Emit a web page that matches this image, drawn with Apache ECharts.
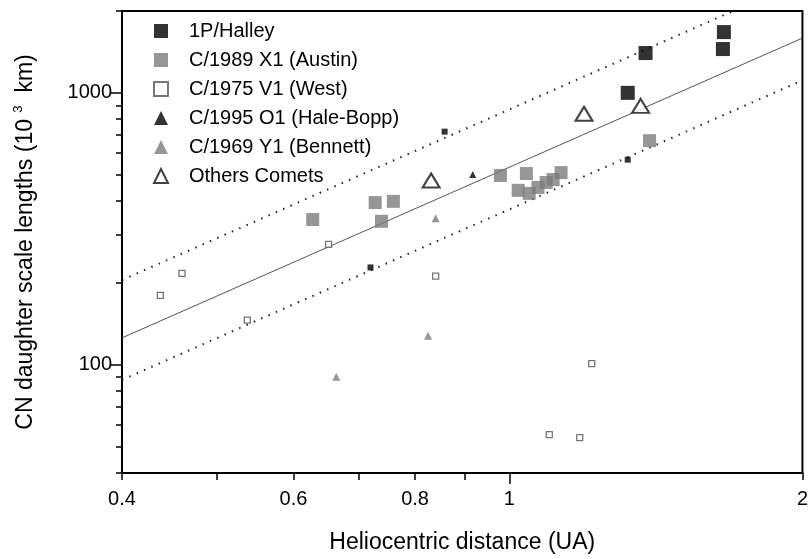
<!DOCTYPE html>
<html><head><meta charset="utf-8">
<script src="https://cdn.jsdelivr.net/npm/echarts@6/dist/echarts.min.js"></script>
<style>html,body{margin:0;padding:0;background:#fff}#c{width:811px;height:559px}</style>
</head><body><div id="c"></div>
<script>
// Data (heliocentric distance in UA, scale length in 10^3 km)
const halleyLarge = [[1.661,1673],[1.657,1449],[1.380,1401],[1.323,1000]];
const halleySmall = [[0.858,720],[1.323,568],[0.720,228]];
const austin = [[0.628,342],[0.728,395],[0.760,399],[0.739,337],[0.979,497],[1.041,505],[1.021,438],[1.048,427],[1.070,449],[1.091,468],[1.109,480],[1.130,509],[1.393,667]];
const west = [[0.438,180],[0.461,217],[0.538,146],[0.652,277],[0.840,212],[1.215,101],[1.099,55.4],[1.181,54.0]];
const haleBopp = [[0.917,501]];
const bennett = [[0.840,346],[0.825,128],[0.664,90.4]];
const others = [[0.831,476],[1.193,838],[1.364,896]];
const fitLine = [[0.4,125.6],[2,1590]];
const upperLine = [[0.4,205],[2,2590]];
const lowerLine = [[0.4,88],[2,1112]];
const xTickValues = [0.4,0.5,0.6,0.7,0.8,0.9,1,2];
const xLabelValues = [0.4,0.6,0.8,1,2];
const yTickValues = [40,50,60,70,80,90,100,200,300,400,500,600,700,800,900,1000,2000];
const yLabelValues = [100,1000];
const legendNames = ['1P/Halley','C/1989 X1 (Austin)','C/1975 V1 (West)','C/1995 O1 (Hale-Bopp)','C/1969 Y1 (Bennett)','Others Comets'];

const FONT = 'Liberation Sans, Arial, sans-serif';
const GREY = '#7c7c7c';
const chart = echarts.init(document.getElementById('c'), null, {renderer:'canvas'});
const axisLineStyle = {color:'#000', width:2};
chart.setOption({
  animation:false,
  backgroundColor:'#fff',
  grid:{left:122, right:4, top:11, bottom:82, show:true, borderColor:'#000', borderWidth:2, backgroundColor:'transparent'},
  legend:{
    data:legendNames, orient:'vertical', left:148, top:16, itemWidth:14, itemHeight:14, itemGap:9,
    textStyle:{fontFamily:FONT, fontSize:20, lineHeight:20, color:'#000', padding:[0,0,0,16]},
    selectedMode:false
  },
  xAxis:[
    {type:'log', logBase:10, min:0.4, max:2, gridIndex:0,
     name:'Heliocentric distance (UA)', nameLocation:'middle', nameGap:58,
     nameTextStyle:{fontFamily:FONT, fontSize:23, color:'#000'},
     axisLine:{show:true, onZero:false, lineStyle:axisLineStyle},
     axisTick:{show:true, inside:false, length:7, customValues:xTickValues, lineStyle:{color:'#000', width:1.5}},
     axisLabel:{show:true, customValues:xLabelValues, margin:16, fontFamily:FONT, fontSize:20, color:'#000', formatter:v=>String(+(+v).toFixed(2))},
     splitLine:{show:false}, minorTick:{show:false}},
    {type:'log', logBase:10, min:0.4, max:2, gridIndex:0, position:'bottom',
     axisLine:{show:false}, axisLabel:{show:false},
     axisTick:{show:true, length:11, customValues:[1], lineStyle:{color:'#000', width:1.5}},
     splitLine:{show:false}}
  ],
  yAxis:[
    {type:'log', logBase:10, min:40, max:2000, gridIndex:0,
     name:'{a|CN daughter scale lengths (10 }{s|3}{a|  km)}', nameLocation:'middle', nameGap:82, nameRotate:90,
     nameTextStyle:{fontFamily:FONT, fontSize:23, color:'#000', rich:{a:{fontFamily:FONT, fontSize:23, color:'#000', lineHeight:28}, s:{fontFamily:FONT, fontSize:13, color:'#000', verticalAlign:'top', lineHeight:15}}},
     axisLine:{show:true, onZero:false, lineStyle:axisLineStyle},
     axisTick:{show:true, length:6, customValues:yTickValues, lineStyle:{color:'#000', width:1.5}},
     axisLabel:{show:true, customValues:yLabelValues, margin:10, fontFamily:FONT, fontSize:20, color:'#000', formatter:v=>String(Math.round(+v))},
     splitLine:{show:false}, minorTick:{show:false}},
    {type:'log', logBase:10, min:40, max:2000, gridIndex:0, position:'left',
     axisLine:{show:false}, axisLabel:{show:false},
     axisTick:{show:true, length:11, customValues:yLabelValues, lineStyle:{color:'#000', width:1.5}},
     splitLine:{show:false}}
  ],
  series:[
    {type:'line', name:'fit', data:fitLine, showSymbol:false, symbol:'none', clip:true, lineStyle:{color:'#555', width:1}, silent:true, z:1},
    {type:'line', name:'upper', data:upperLine, showSymbol:false, symbol:'none', clip:true, lineStyle:{color:'#222', width:2, type:[1.5,6.5]}, silent:true, z:1},
    {type:'line', name:'lower', data:lowerLine, showSymbol:false, symbol:'none', clip:true, lineStyle:{color:'#222', width:2, type:[1.5,6.5]}, silent:true, z:1},
    {type:'scatter', name:'1P/Halley', data:halleyLarge, symbol:'rect', symbolSize:14, itemStyle:{color:'#000'}, z:3},
    {type:'scatter', name:'1P/Halley', data:halleySmall, symbol:'rect', symbolSize:6, itemStyle:{color:'#000'}, z:3},
    {type:'scatter', name:'C/1989 X1 (Austin)', data:austin, symbol:'rect', symbolSize:13, itemStyle:{color:GREY}, z:2},
    {type:'scatter', name:'C/1975 V1 (West)', data:west, symbol:'rect', symbolSize:6, itemStyle:{color:'#fff', borderColor:'#555', borderWidth:1.3}, z:3},
    {type:'scatter', name:'C/1995 O1 (Hale-Bopp)', data:haleBopp, symbol:'triangle', symbolSize:7, itemStyle:{color:'#000'}, z:3},
    {type:'scatter', name:'C/1969 Y1 (Bennett)', data:bennett, symbol:'triangle', symbolSize:8, itemStyle:{color:GREY}, z:3},
    {type:'scatter', name:'Others Comets', data:others, symbol:'triangle', symbolSize:[17,14], itemStyle:{color:'#fff', borderColor:'#111', borderWidth:2}, z:3}
  ]
});
</script></body></html>
